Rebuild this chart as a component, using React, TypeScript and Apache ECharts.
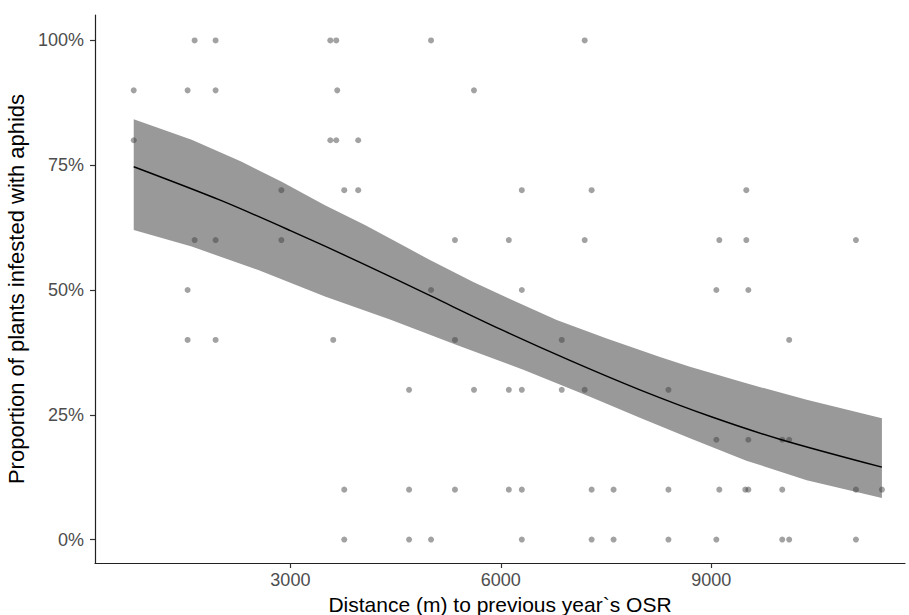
import React, { useEffect, useRef } from "react";
import * as echarts from "echarts";

// Observed points: distance (m) and proportion (%)
const pointX = [
  1635, 1934, 3569, 3654, 5005, 7195,
  767, 1535, 1934, 3668, 5617,
  767, 3569, 3654, 3967,
  2872, 3768, 3967, 6299, 7294, 9499,
  1635, 1934, 2872, 5346, 6114, 7195, 9114, 9499, 11062,
  1535, 5005, 6299, 9072, 9528,
  1535, 1934, 3611, 5346, 6868, 10110,
  4692, 5617, 6114, 6299, 6868, 7195, 8389,
  9072, 9528, 10011, 10110,
  3768, 4692, 5346, 6114, 6299, 7294, 7607, 8389, 9114, 9485, 9528, 10011, 11062, 11432,
  3768, 4692, 5005, 6299, 7294, 7607, 8389, 9072, 10011, 10110, 11062,
];
const pointY = [
  100, 100, 100, 100, 100, 100,
  90, 90, 90, 90, 90,
  80, 80, 80, 80,
  70, 70, 70, 70, 70, 70,
  60, 60, 60, 60, 60, 60, 60, 60, 60,
  50, 50, 50, 50, 50,
  40, 40, 40, 40, 40, 40,
  30, 30, 30, 30, 30, 30, 30,
  20, 20, 20, 20,
  10, 10, 10, 10, 10, 10, 10, 10, 10, 10, 10, 10, 10, 10,
  0, 0, 0, 0, 0, 0, 0, 0, 0, 0, 0,
];

// Fitted curve
const fitX = [767, 2000, 3000, 4000, 5000, 6000, 7000, 8000, 9000, 10000, 11432];
const fitY = [74.7, 68.0, 61.9, 55.5, 48.8, 42.1, 35.8, 29.9, 24.6, 20.0, 14.5];

// Confidence band edges
const upperX = [767, 1593, 2306, 2876, 3493, 4063, 4634, 4990, 5607, 6130, 6796, 7509, 8269, 8695, 9500, 10360, 11432];
const upperY = [84.2, 80.1, 75.7, 71.7, 67.0, 63.0, 58.7, 56.0, 51.6, 48.2, 44.0, 40.3, 36.6, 34.6, 31.3, 28.0, 24.3];
const lowerX = [767, 1593, 2542, 3493, 4420, 5371, 6320, 7271, 7982, 8695, 9500, 10360, 11432];
const lowerY = [62.0, 58.7, 54.0, 48.7, 44.1, 39.0, 34.0, 28.6, 24.4, 20.3, 15.8, 11.9, 8.3];

const xTicks = [3000, 6000, 9000];
const yTicks = [0, 25, 50, 75, 100];

const FONT = "Liberation Sans";

export default function App() {
  const ref = useRef<HTMLDivElement>(null);
  useEffect(() => {
    if (!ref.current) return;
    const chart = echarts.init(ref.current, null, { renderer: "svg" });
    const upperRows = upperX.map((x, i) => [x, upperY[i]]);
    const lowerRows = lowerX.map((x, i) => [x, lowerY[i]]);
    chart.setOption({
      animation: false,
      backgroundColor: "#ffffff",
      grid: { left: 95, right: 4, top: 15, bottom: 52, containLabel: false, outerBoundsMode: "none" },
      xAxis: {
        type: "value",
        min: 215,
        max: 11761,
        name: "Distance (m) to previous year`s OSR",
        nameLocation: "middle",
        nameGap: 26,
        nameTextStyle: { fontFamily: FONT, fontSize: 21, color: "#000" },
        splitLine: { show: false },
        axisLine: { show: true, onZero: false, lineStyle: { color: "#222", width: 1.2 } },
        axisTick: { show: true, length: 5, customValues: xTicks, lineStyle: { color: "#333", width: 1.2 } },
        axisLabel: {
          customValues: xTicks,
          margin: 8,
          fontFamily: FONT,
          fontSize: 18,
          color: "#4d4d4d",
          formatter: (v: number) => String(Math.round(v)),
        },
      },
      yAxis: {
        type: "value",
        min: -4.7,
        max: 105.1,
        name: "Proportion of plants infested with aphids",
        nameLocation: "middle",
        nameGap: 66,
        nameRotate: 90,
        nameTextStyle: { fontFamily: FONT, fontSize: 22, color: "#000" },
        splitLine: { show: false },
        axisLine: { show: true, onZero: false, lineStyle: { color: "#222", width: 1.2 } },
        axisTick: { show: true, length: 5, customValues: yTicks, lineStyle: { color: "#333", width: 1.2 } },
        axisLabel: {
          customValues: yTicks,
          margin: 11,
          fontFamily: FONT,
          fontSize: 18,
          color: "#4d4d4d",
          formatter: (v: number) => `${Math.round(v)}%`,
        },
      },
      series: [
        {
          type: "custom",
          data: upperRows,
          encode: { x: 0, y: 1 },
          silent: true,
          z: 1,
          renderItem: (params: any, api: any) => {
            if (params.dataIndex !== 0) return null;
            const pts: number[][] = [];
            for (let i = 0; i < upperRows.length; i++) pts.push(api.coord(upperRows[i]));
            for (let i = lowerRows.length - 1; i >= 0; i--) pts.push(api.coord(lowerRows[i]));
            return {
              type: "polygon",
              shape: { points: pts },
              style: { fill: "#999999", stroke: "none" },
            };
          },
        },
        {
          type: "scatter",
          data: pointX.map((x, i) => [x, pointY[i]]),
          symbolSize: 6,
          itemStyle: { color: "rgba(60,60,60,0.6)" },
          z: 5,
        },
        {
          type: "line",
          data: fitX.map((x, i) => [x, fitY[i]]),
          symbol: "none",
          smooth: 0.3,
          lineStyle: { color: "#000", width: 1.4 },
          z: 6,
        },
      ],
    });
    return () => chart.dispose();
  }, []);
  return <div ref={ref} style={{ width: 909, height: 615, position: "absolute", left: 0, top: 0 }} />;
}
